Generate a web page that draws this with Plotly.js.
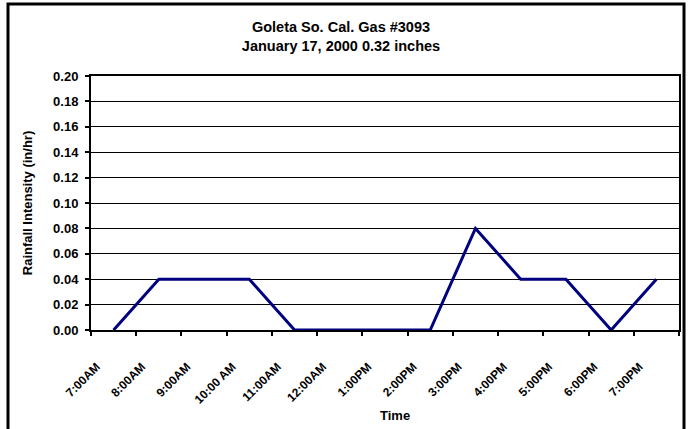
<!DOCTYPE html>
<html>
<head>
<meta charset="utf-8">
<script src="https://cdn.plot.ly/plotly-3.0.1.min.js"></script>
<style>html,body{margin:0;padding:0;background:#fff;}#chart{width:691px;height:429px;}</style>
</head>
<body>
<div id="chart"></div>
<script>
const categories = ["7:00AM","8:00AM","9:00AM","10:00 AM","11:00AM","12:00AM","1:00PM","2:00PM","3:00PM","4:00PM","5:00PM","6:00PM","7:00PM"];
const intensity = [0, 0.04, 0.04, 0.04, 0, 0, 0, 0, 0.08, 0.04, 0.04, 0, 0.04];
const yTicks = [0, 0.02, 0.04, 0.06, 0.08, 0.10, 0.12, 0.14, 0.16, 0.18, 0.20];
const titleLines = ["Goleta So. Cal. Gas #3093", "January 17, 2000 0.32 inches"];
const xTitle = "Time";
const yTitle = "Rainfall Intensity (in/hr)";

const FONT = "Liberation Sans, Arial, sans-serif";
const W = 691, H = 429;
const L = 91, R = 679, T = 76, B = 330;
const pw = R - L, ph = B - T;
const px = v => (v - L) / pw;
const py = v => (B - v) / ph;

const trace = {
  x: categories,
  y: intensity,
  type: "scatter",
  mode: "lines",
  line: {color: "#000080", width: 3},
  hoverinfo: "skip"
};

const layout = {
  width: W, height: H,
  margin: {l: L, r: W - R, t: T, b: H - B, pad: 0},
  paper_bgcolor: "#ffffff",
  plot_bgcolor: "#ffffff",
  showlegend: false,
  font: {family: FONT, color: "#000", size: 12, weight: "bold"},
  title: {
    text: titleLines.join("<br>"),
    font: {family: FONT, size: 14.5, color: "#000", weight: "bold"},
    x: px(341), xref: "paper", xanchor: "center",
    y: 1 - 32 / H, yref: "container", yanchor: "middle"
  },
  xaxis: {
    type: "category",
    categoryorder: "array",
    categoryarray: categories,
    range: [-0.5, categories.length - 0.5],
    tickson: "boundaries",
    ticks: "outside", ticklen: 4, tickwidth: 2, tickcolor: "#000",
    showline: true, linewidth: 2, linecolor: "#000", mirror: true,
    showgrid: false, zeroline: false,
    tickangle: -45,
    tickfont: {family: FONT, size: 12, color: "#000", weight: "bold"},
    ticklabelshift: -17,
    ticklabelstandoff: 23,
    automargin: false
  },
  yaxis: {
    range: [0, 0.2],
    tickvals: yTicks,
    tickformat: ".2f",
    ticks: "outside", ticklen: 4, tickwidth: 2, tickcolor: "#000",
    showline: true, linewidth: 2, linecolor: "#000", mirror: true,
    showgrid: true, gridcolor: "#000", gridwidth: 1,
    zeroline: false,
    tickfont: {family: FONT, size: 13, color: "#000", weight: "bold"},
    ticklabelstandoff: 4,
    automargin: false,
    title: {text: yTitle, font: {family: FONT, size: 13, color: "#000", weight: "bold"}, standoff: 18}
  },
  annotations: [{
    text: xTitle, xref: "paper", yref: "paper",
    x: px(395), y: py(415), xanchor: "center", yanchor: "middle",
    showarrow: false,
    font: {family: FONT, size: 13, color: "#000", weight: "bold"}
  }],
  shapes: [{
    type: "rect", xref: "paper", yref: "paper", layer: "above",
    x0: px(8), x1: px(684), y0: py(436), y1: py(4),
    line: {color: "#000", width: 3}, fillcolor: "rgba(0,0,0,0)"
  }]
};

Plotly.newPlot("chart", [trace], layout, {staticPlot: true, displayModeBar: false});
</script>
</body>
</html>
